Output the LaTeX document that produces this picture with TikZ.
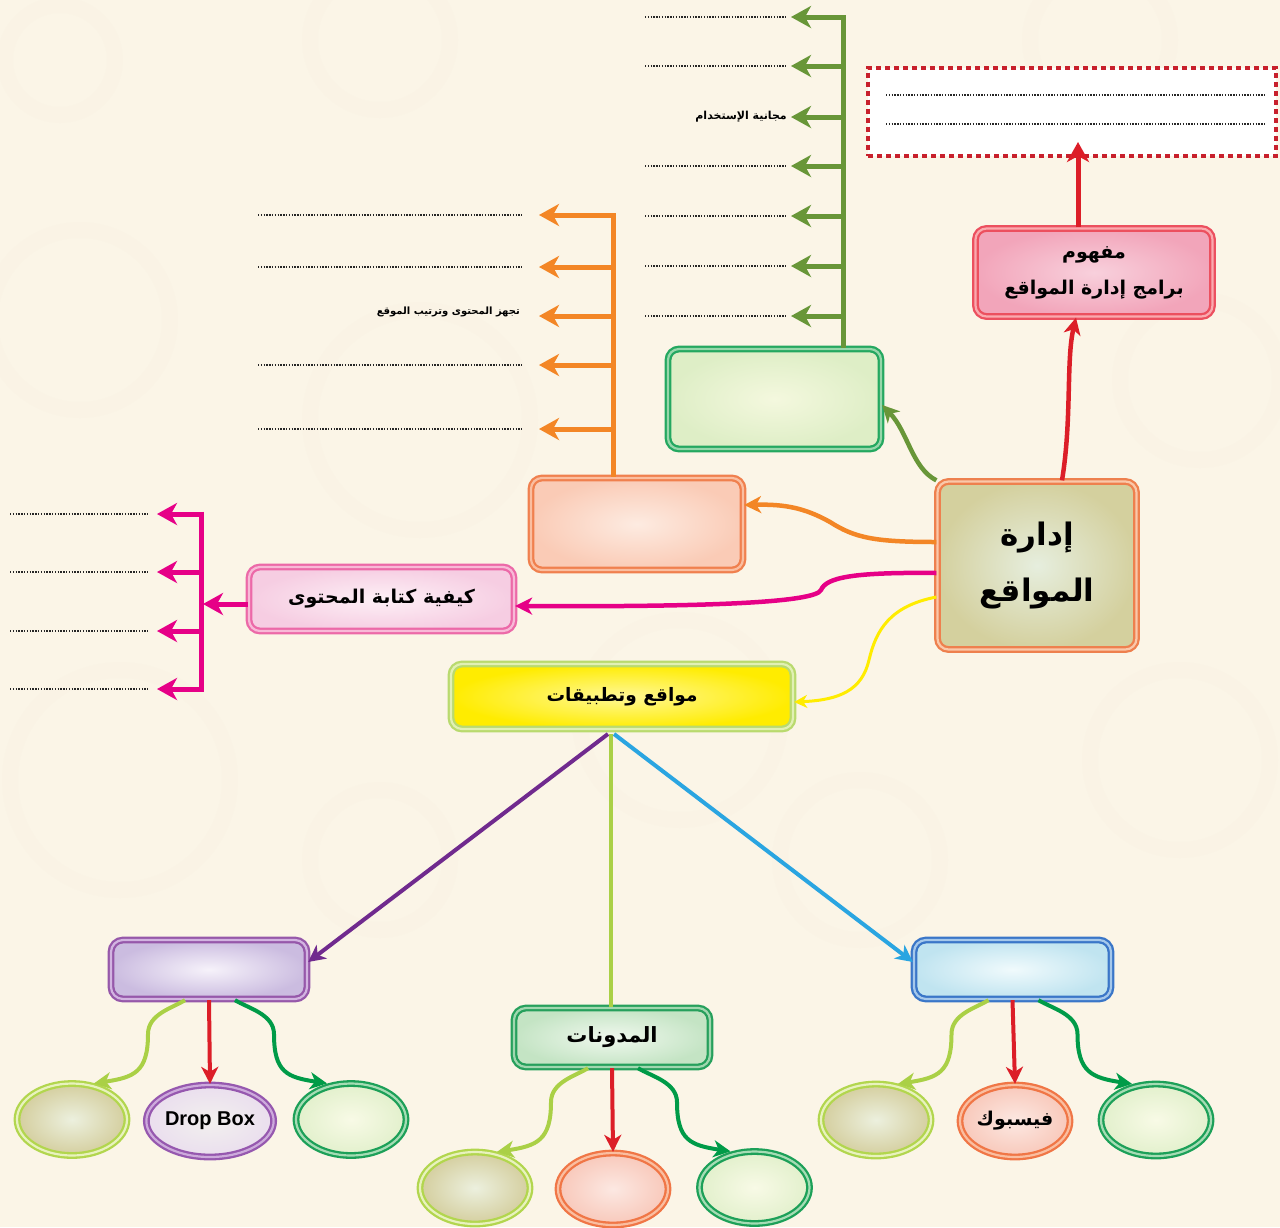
\documentclass[tikz,border=0pt]{standalone}
\usepackage{fontspec}
\setmainfont{Liberation Sans}
\newfontfamily\arabicfont[Script=Arabic]{DejaVu Sans}
\TeXXeTstate=1
\usetikzlibrary{arrows.meta,calc,shapes.geometric}
\definecolor{bgc}{RGB}{251,245,231}
\definecolor{gline}{RGB}{104,150,56}
\definecolor{oline}{RGB}{243,134,38}
\definecolor{mline}{RGB}{230,0,135}
\definecolor{yline}{RGB}{255,236,0}
\definecolor{pline}{RGB}{112,42,142}
\definecolor{lline}{RGB}{170,208,70}
\definecolor{bline}{RGB}{42,165,225}
\definecolor{rline}{RGB}{220,30,40}
\definecolor{dgline}{RGB}{0,155,72}
\definecolor{boxred}{RGB}{200,32,44}
\tikzset{
  x=1pt,y=-1pt,
  tipbig/.style={-{Stealth[length=20pt,width=22pt,inset=6pt]}},
  tipmid/.style={-{Stealth[length=17pt,width=17pt,inset=5pt]}},
  brk/.style={line width=5pt},
  conn/.style={line width=4.5pt, tipmid},
  dots/.style={line width=1.3pt, dash pattern=on 1.3pt off 1.5pt, black!85},
  rbox/.style={rectangle, rounded corners=11pt, line width=2.3pt, double distance=2.2pt, inner sep=0pt},
  oval/.style={ellipse, line width=2.3pt, double distance=2.2pt, inner sep=0pt, minimum width=110pt, minimum height=72pt},
}
\begin{document}
\begin{tikzpicture}
\useasboundingbox (0,0) rectangle (1280,1227);
\fill[bgc] (0,0) rectangle (1280,1227);
% faint background circles
\foreach \cx/\cy/\r in {60/60/55, 380/40/70, 1100/40/70, 80/320/90, 420/420/110, 1200/380/80, 120/780/110, 680/720/100, 1180/760/90, 860/860/80, 380/860/70}
  \draw[bgc!90!brown, line width=16pt, opacity=0.1] (\cx,\cy) circle (\r);

% ---- nodes ----
\node[rbox, draw={rgb,255:red,238;green,128;blue,78}, double={rgb,255:red,250;green,200;blue,170},
      inner color={rgb,255:red,230;green,238;blue,222}, outer color={rgb,255:red,212;green,208;blue,158},
      minimum width=199pt, minimum height=168pt, align=center,
      font=\arabicfont\bfseries\fontsize{31}{56}\selectfont] (main) at (1037,565.5) {\beginR إدارة\endR\\\beginR المواقع\endR};

\node[rbox, draw={rgb,255:red,236;green,80;blue,95}, double={rgb,255:red,250;green,170;blue,175},
      inner color={rgb,255:red,248;green,208;blue,220}, outer color={rgb,255:red,242;green,165;blue,186},
      minimum width=237pt, minimum height=88pt, align=center,
      font=\arabicfont\bfseries\fontsize{19}{36}\selectfont] (concept) at (1094,272.5) {\beginR مفهوم\endR\\\beginR برامج إدارة المواقع\endR};

\node[rectangle, fill=white, draw=boxred, line width=4pt, dash pattern=on 5pt off 4pt,
      minimum width=408pt, minimum height=88pt, inner sep=0pt] (defbox) at (1072,111.5) {};
\coordinate (d1a) at (886,95); \coordinate (d1b) at (1265,95);
\coordinate (d2a) at (886,124); \coordinate (d2b) at (1265,124);
\draw[dots] (d1a) -- (d1b);
\draw[dots] (d2a) -- (d2b);

\node[rbox, draw={rgb,255:red,36;green,168;blue,96}, double={rgb,255:red,150;green,215;blue,170},
      inner color={rgb,255:red,244;green,248;blue,222}, outer color={rgb,255:red,222;green,238;blue,198},
      minimum width=213pt, minimum height=100pt] (gnode) at (774.5,399) {};

\node[rbox, draw={rgb,255:red,240;green,128;blue,78}, double={rgb,255:red,250;green,190;blue,160},
      inner color={rgb,255:red,253;green,235;blue,225}, outer color={rgb,255:red,250;green,203;blue,182},
      minimum width=212pt, minimum height=92pt] (onode) at (637,524) {};

\node[rbox, draw={rgb,255:red,236;green,105;blue,168}, double={rgb,255:red,248;green,185;blue,215},
      inner color={rgb,255:red,253;green,240;blue,246}, outer color={rgb,255:red,246;green,205;blue,226},
      minimum width=265pt, minimum height=64pt,
      font=\arabicfont\bfseries\fontsize{19}{24}\selectfont] (howto) at (381.5,599) {\beginR كيفية كتابة المحتوى\endR};

\node[rbox, draw={rgb,255:red,185;green,218;blue,110}, double={rgb,255:red,225;green,240;blue,180},
      inner color={rgb,255:red,255;green,248;blue,150}, outer color={rgb,255:red,255;green,236;blue,0},
      minimum width=342pt, minimum height=65pt,
      font=\arabicfont\bfseries\fontsize{18.5}{22}\selectfont] (apps) at (622,696.5) {\beginR مواقع وتطبيقات\endR};

\node[rbox, rounded corners=12pt, draw={rgb,255:red,150;green,88;blue,170}, double={rgb,255:red,210;green,180;blue,225},
      inner color={rgb,255:red,246;green,242;blue,250}, outer color={rgb,255:red,203;green,188;blue,224},
      minimum width=196pt, minimum height=59pt] (purp) at (209,969.5) {};

\node[rbox, rounded corners=12pt, draw={rgb,255:red,38;green,160;blue,92}, double={rgb,255:red,160;green,215;blue,175},
      inner color={rgb,255:red,240;green,248;blue,238}, outer color={rgb,255:red,196;green,228;blue,196},
      minimum width=196pt, minimum height=59pt,
      font=\arabicfont\bfseries\fontsize{21}{24}\selectfont] (blogs) at (612,1037.5) {\beginR المدونات\endR};

\node[rbox, rounded corners=12pt, draw={rgb,255:red,58;green,118;blue,200}, double={rgb,255:red,165;green,200;blue,235},
      inner color={rgb,255:red,240;green,250;blue,252}, outer color={rgb,255:red,192;green,228;blue,240},
      minimum width=197pt, minimum height=59pt] (blue) at (1012.5,969.5) {};

% ellipses
\tikzset{
  olive/.style={oval, draw={rgb,255:red,178;green,214;blue,78}, double={rgb,255:red,232;green,242;blue,190},
      inner color={rgb,255:red,236;green,240;blue,222}, outer color={rgb,255:red,212;green,206;blue,158}},
  grn/.style={oval, draw={rgb,255:red,28;green,160;blue,88}, double={rgb,255:red,165;green,220;blue,180},
      inner color={rgb,255:red,248;green,250;blue,230}, outer color={rgb,255:red,226;green,240;blue,204}},
  org/.style={oval, draw={rgb,255:red,240;green,118;blue,70}, double={rgb,255:red,250;green,190;blue,160},
      inner color={rgb,255:red,252;green,232;blue,226}, outer color={rgb,255:red,248;green,200;blue,186}},
  prp/.style={oval, draw={rgb,255:red,150;green,88;blue,175}, double={rgb,255:red,205;green,170;blue,220},
      inner color={rgb,255:red,242;green,240;blue,238}, outer color={rgb,255:red,234;green,222;blue,238}},
}
\node[olive] (e1) at (72,1119.5) {};
\node[prp, font=\bfseries\fontsize{20}{22}\selectfont] (e2) at (210,1121) {Drop Box};
\node[grn] (e3) at (351,1119.5) {};
\node[olive] (e4) at (475,1188) {};
\node[org] (e5) at (613,1189) {};
\node[grn] (e6) at (754.5,1187.5) {};
\node[olive] (e7) at (876,1120) {};
\node[org, font=\arabicfont\bfseries\fontsize{19}{22}\selectfont] (e8) at (1015,1121) {\beginR فيسبوك\endR};
\node[grn] (e9) at (1156,1120) {};

% ---- connectors from main ----
\draw[conn, rline] ([xshift=25pt]main.north) .. controls (1072,420) and (1066,360) .. (concept.south -| 1076,0);
\draw[brk, rline, tipbig] (concept.north -| 1078,0) -- (1078,142);
\draw[conn, gline] (main.north west) .. controls (912,468) and (908,432) .. (gnode.east |- 0,405);
\draw[conn, oline] (main.west |- 0,542) .. controls (875,542) and (855,538) .. (830,522) .. controls (805,508) and (785,504) .. (onode.east |- 0,505);
\draw[conn, mline] (main.west |- 0,573) .. controls (850,572) and (826,578) .. (821,590) .. controls (815,603) and (700,607) .. (howto.east |- 0,606);
\draw[line width=3pt, yline, -{Stealth[length=13pt,width=13pt,inset=4pt]}] (main.west |- 0,597) .. controls (890,606) and (876,630) .. (869,660) .. controls (862,690) and (840,700) .. (apps.east |- 0,702);

% ---- green bracket ----
\coordinate (gtop) at (843,14.5);
\draw[brk, gline] (gnode.north -| 843,0) -- (gtop);
\foreach \yy/\i in {17/1,66/2,117/3,166/4,216/5,266/6,316/7}{
  \coordinate (gb\i) at (845.5,\yy);
  \coordinate (gt\i) at (791,\yy);
  \draw[brk, gline, tipbig] (gb\i) -- (gt\i);
}
\foreach \yy in {17,66,166,216,266,316}{
  \draw[dots] (645,\yy) -- (787,\yy);
}
\node[anchor=east, inner sep=0pt, font=\arabicfont\bfseries\fontsize{11}{12}\selectfont] (lab1) at (787,117) {\beginR مجانية الإستخدام\endR};

% ---- orange bracket ----
\draw[brk, oline] (onode.north -| 613,0) -- (613,212.5);
\foreach \yy/\i in {215/1,267/2,316/3,365/4,429/5}{
  \coordinate (ob\i) at (615.5,\yy);
  \coordinate (ot\i) at (539,\yy);
  \draw[brk, oline, tipbig] (ob\i) -- (ot\i);
}
\foreach \yy in {215,267,365,429}{
  \draw[dots] (258,\yy) -- (522,\yy);
}
\node[anchor=east, inner sep=0pt, font=\arabicfont\bfseries\fontsize{10}{12}\selectfont] (lab2) at (520,312) {\beginR تجهز المحتوى وترتيب الموقع\endR};

% ---- magenta bracket ----
\coordinate (mj) at (203,604);
\draw[brk, mline, tipbig] (howto.west |- 0,604) -- (mj);
\draw[brk, mline] (201,511.5) -- (201,691.5);
\foreach \yy/\i in {514/1,572/2,631/3,689/4}{
  \coordinate (mb\i) at (203.5,\yy);
  \coordinate (mt\i) at (157,\yy);
  \draw[brk, mline, tipbig] (mb\i) -- (mt\i);
  \draw[dots] (10,\yy) -- (148,\yy);
}

% ---- from apps ----
\coordinate (as1) at (608,734);
\coordinate (as2) at (611,734);
\coordinate (as3) at (614,734);
\draw[line width=4pt, pline, tipmid] (as1) -- (purp.north east |- 0,962);
\draw[line width=3.5pt, lline] (as2) -- (blogs.north -| 611,0);
\draw[line width=4pt, bline, tipmid] (as3) -- (blue.north west |- 0,962);

% ---- sub connectors ----
\foreach \src/\a/\b/\c in {purp/e1/e2/e3, blogs/e4/e5/e6, blue/e7/e8/e9}{
  \draw[line width=4pt, lline, tipmid] ([xshift=-24pt]\src.south) .. controls +(-13,8) and +(0,-20) .. ++(-37,34) .. controls +(0,38) and +(40,-6) .. ([xshift=22pt,yshift=-1pt]\a.north);
  \draw[line width=4pt, rline, tipmid] (\src.south) -- (\b.north);
  \draw[line width=4pt, dgline, tipmid] ([xshift=26pt]\src.south) .. controls +(13,8) and +(0,-20) .. ++(39,34) .. controls +(0,38) and +(-40,-6) .. ([xshift=-24pt,yshift=-1pt]\c.north);
}
\end{tikzpicture}
\end{document}
